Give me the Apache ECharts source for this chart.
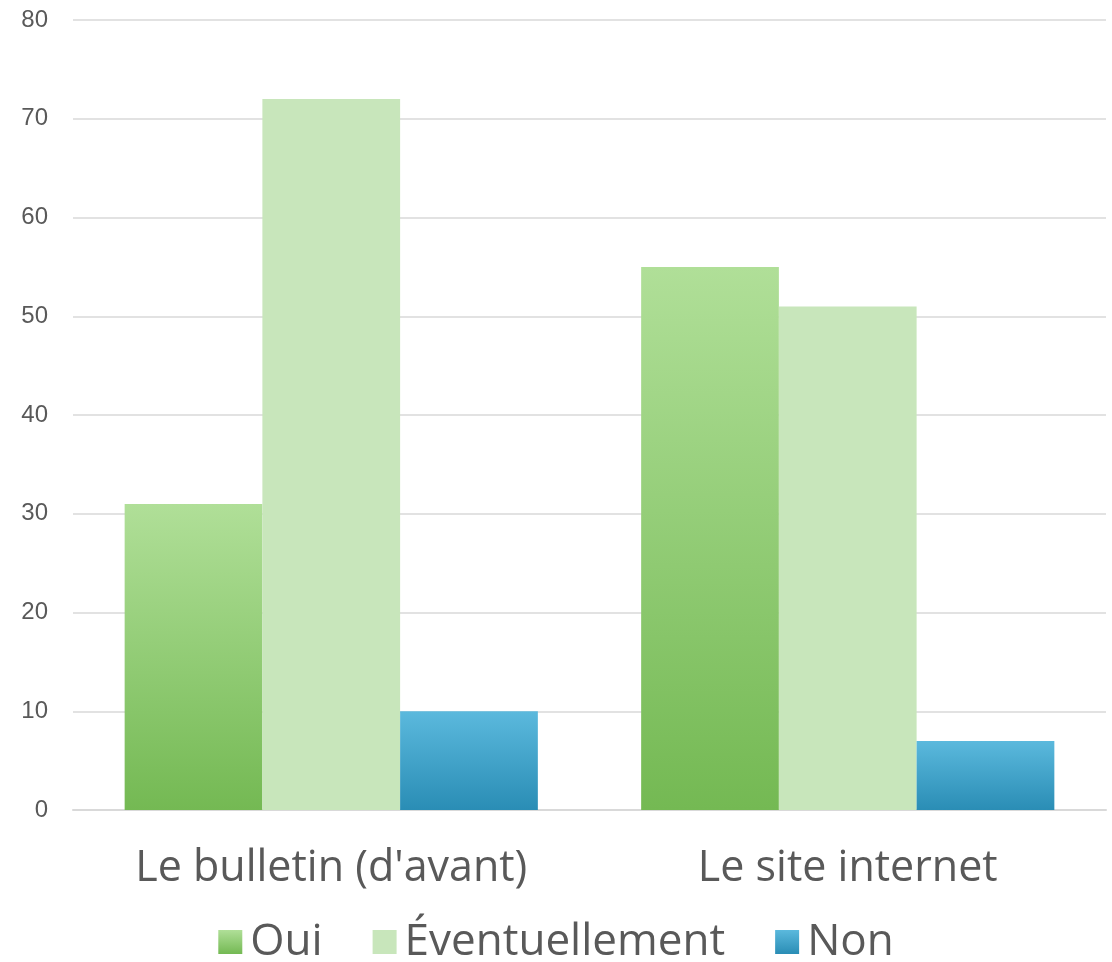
<!DOCTYPE html>
<html><head><meta charset="utf-8">
<script src="https://cdn.jsdelivr.net/npm/echarts@6/dist/echarts.min.js"></script>
<style>html,body{margin:0;padding:0;background:#fff}#c{width:1112px;height:962px}</style>
</head><body><div id="c"></div>
<script>
const categories = ["Le bulletin (d'avant)", "Le site internet"];
const seriesNames = ["Oui", "Éventuellement", "Non"];
const oui = [31, 55];
const eventuellement = [72, 51];
const non = [10, 7];
const yTicks = [0, 10, 20, 30, 40, 50, 60, 70, 80];

const grad = (a, b) => new echarts.graphic.LinearGradient(0, 0, 0, 1, [{offset: 0, color: a}, {offset: 1, color: b}]);
const catFont = "Open Sans";
const chart = echarts.init(document.getElementById('c'));
chart.setOption({
  animation: false,
  grid: {left: 73, right: 6, top: 20, bottom: 152, containLabel: false},
  legend: {
    bottom: -7, left: 'center', itemWidth: 24, itemHeight: 24, itemGap: 50, icon: 'rect',
    textStyle: {fontFamily: catFont, fontSize: 44, color: '#595959', padding: [0, 0, 0, 3]},
    data: seriesNames
  },
  xAxis: {
    type: 'category', data: categories,
    axisLine: {lineStyle: {color: '#d9d9d9', width: 2}},
    axisTick: {show: false},
    axisLabel: {fontFamily: catFont, fontSize: 43, color: '#595959', margin: 37}
  },
  yAxis: {
    type: 'value', min: yTicks[0], max: yTicks[yTicks.length - 1], interval: 10,
    axisLine: {show: false}, axisTick: {show: false},
    splitLine: {lineStyle: {color: '#d9d9d9', width: 1.5}},
    axisLabel: {fontFamily: 'Liberation Sans', fontSize: 24, color: '#595959', margin: 25}
  },
  series: [
    {name: seriesNames[0], type: 'bar', data: oui, barGap: '0%', barCategoryGap: '20%',
     itemStyle: {color: grad('#b0df98', '#74b953')}},
    {name: seriesNames[1], type: 'bar', data: eventuellement,
     itemStyle: {color: '#c8e6bb'}},
    {name: seriesNames[2], type: 'bar', data: non,
     itemStyle: {color: grad('#5bb9dd', '#2a8db5')}}
  ]
});
</script></body></html>
